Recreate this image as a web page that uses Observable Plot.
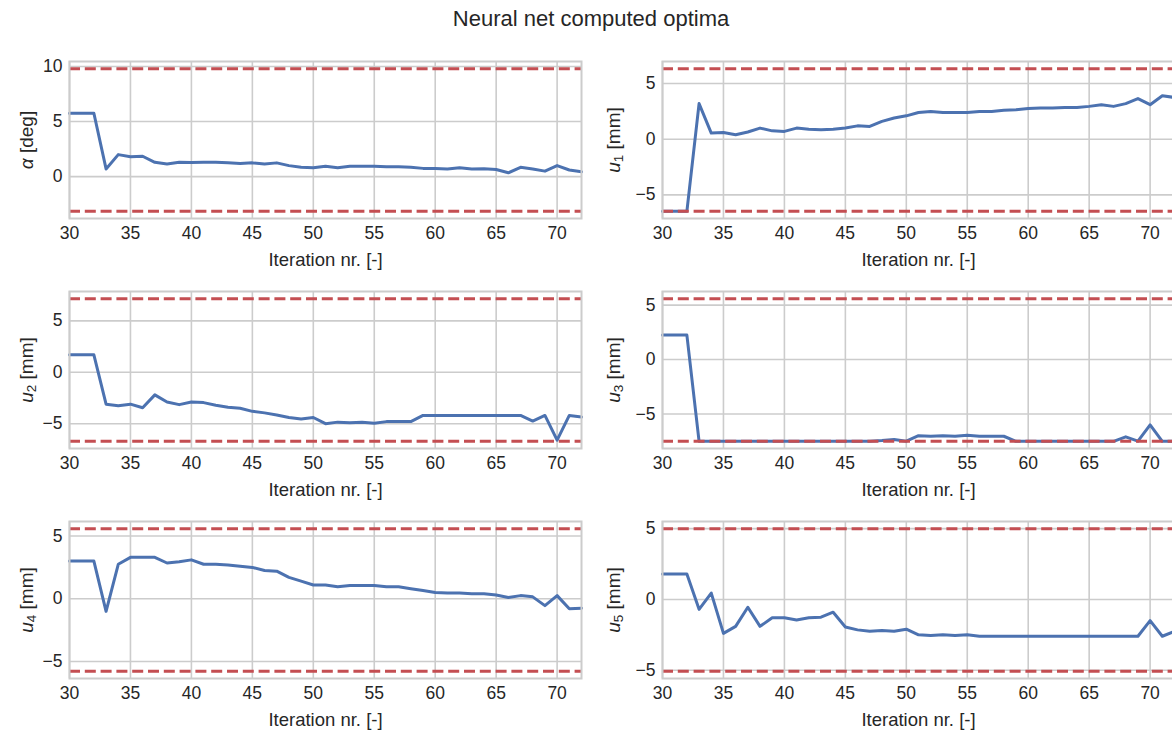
<!DOCTYPE html>
<html>
<head>
<meta charset="utf-8">
<script src="https://cdn.jsdelivr.net/npm/d3@7"></script>
<script src="https://cdn.jsdelivr.net/npm/@observablehq/plot@0.6"></script>
<style>
  body { margin: 0; background: #fff; width: 1172px; height: 731px; overflow: hidden; position: relative;
         font-family: "Liberation Sans", Arial, Helvetica, sans-serif; color: #262626; }
  #title { position: absolute; left: 0; top: 6px; width: 1182px; text-align: center; font-size: 22px; color: #262626; }
  .panel { position: absolute; width: 591px; height: 230px; }
  .panel svg { overflow: visible; max-width: none !important; display: block; }
</style>
</head>
<body>
<div id="title">Neural net computed optima</div>
<div id="fig"></div>
<script>
// Optimiser iterations
const iterations = [30, 31, 32, 33, 34, 35, 36, 37, 38, 39, 40, 41, 42, 43, 44, 45, 46, 47, 48, 49, 50,
                    51, 52, 53, 54, 55, 56, 57, 58, 59, 60, 61, 62, 63, 64, 65, 66, 67, 68, 69, 70, 71, 72];

// Computed optimum of each design variable per iteration
const alphaDeg = [5.75, 5.75, 5.75, 0.7, 2.0, 1.8, 1.85, 1.3, 1.15, 1.3, 1.28, 1.3, 1.3, 1.25, 1.2, 1.25, 1.15, 1.25, 1.0, 0.85, 0.8,
                  0.95, 0.8, 0.95, 0.95, 0.95, 0.9, 0.9, 0.85, 0.75, 0.75, 0.7, 0.8, 0.7, 0.72, 0.65, 0.35, 0.85, 0.7, 0.5, 1.0, 0.6, 0.45];
const u1 = [-6.48, -6.48, -6.48, 3.2, 0.55, 0.6, 0.4, 0.65, 1.0, 0.75, 0.7, 1.0, 0.9, 0.85, 0.9, 1.0, 1.2, 1.15, 1.6, 1.9, 2.1,
            2.4, 2.5, 2.4, 2.4, 2.4, 2.5, 2.5, 2.6, 2.65, 2.75, 2.8, 2.8, 2.85, 2.85, 2.95, 3.1, 2.95, 3.2, 3.65, 3.1, 3.9, 3.75];
const u2 = [1.7, 1.7, 1.7, -3.1, -3.25, -3.1, -3.45, -2.2, -2.9, -3.15, -2.9, -2.95, -3.2, -3.4, -3.5, -3.8, -3.95, -4.15, -4.4, -4.55, -4.4,
            -5.0, -4.85, -4.9, -4.85, -4.95, -4.8, -4.8, -4.8, -4.2, -4.2, -4.2, -4.2, -4.2, -4.2, -4.2, -4.2, -4.2, -4.75, -4.2, -6.6, -4.2, -4.35];
const u3 = [2.25, 2.25, 2.25, -7.52, -7.52, -7.52, -7.52, -7.52, -7.52, -7.52, -7.52, -7.52, -7.52, -7.52, -7.52, -7.52, -7.52, -7.52, -7.45, -7.35, -7.5,
            -7.0, -7.05, -7.0, -7.05, -6.95, -7.05, -7.05, -7.05, -7.52, -7.52, -7.52, -7.52, -7.52, -7.52, -7.52, -7.52, -7.52, -7.1, -7.5, -6.0, -7.52, -7.52];
const u4 = [3.0, 3.0, 3.0, -1.0, 2.75, 3.3, 3.3, 3.3, 2.85, 2.95, 3.1, 2.75, 2.75, 2.7, 2.6, 2.5, 2.25, 2.2, 1.7, 1.4, 1.1,
            1.1, 0.95, 1.05, 1.05, 1.05, 0.95, 0.95, 0.8, 0.65, 0.5, 0.45, 0.45, 0.4, 0.4, 0.3, 0.1, 0.25, 0.15, -0.55, 0.25, -0.8, -0.75];
const u5 = [1.8, 1.8, 1.8, -0.7, 0.45, -2.4, -1.9, -0.55, -1.9, -1.3, -1.3, -1.45, -1.3, -1.25, -0.9, -1.95, -2.15, -2.25, -2.2, -2.25, -2.1,
            -2.5, -2.55, -2.5, -2.55, -2.5, -2.6, -2.6, -2.6, -2.6, -2.6, -2.6, -2.6, -2.6, -2.6, -2.6, -2.6, -2.6, -2.6, -2.6, -1.5, -2.6, -2.25];

// Design-space bounds of each variable [lower, upper]
const alphaBounds = [-3.15, 9.8];
const u1Bounds = [-6.48, 6.34];
const u2Bounds = [-6.72, 7.16];
const u3Bounds = [-7.52, 5.6];
const u4Bounds = [-5.79, 5.59];
const u5Bounds = [-5.08, 5.0];

// Axis ticks and labels
const xTicks = [30, 35, 40, 45, 50, 55, 60, 65, 70];
const alphaTicks = [0, 5, 10];
const uTicks = [-5, 0, 5];
const xLabel = "Iteration nr. [-]";
const yLabels = [
  {sym: "α", sub: "", unit: " [deg]"},
  {sym: "u", sub: "1", unit: " [mm]"},
  {sym: "u", sub: "2", unit: " [mm]"},
  {sym: "u", sub: "3", unit: " [mm]"},
  {sym: "u", sub: "4", unit: " [mm]"},
  {sym: "u", sub: "5", unit: " [mm]"}
];

const series = [alphaDeg, u1, u2, u3, u4, u5];
const bounds = [alphaBounds, u1Bounds, u2Bounds, u3Bounds, u4Bounds, u5Bounds];
const yTicks = [alphaTicks, uTicks, uTicks, uTicks, uTicks, uTicks];

const BLUE = "#4c72b0", RED = "#c44e52", GRID = "#cccccc", INK = "#262626";
const fig = document.getElementById("fig");
const ns = "http://www.w3.org/2000/svg";

series.forEach((vals, i) => {
  const col = i % 2, row = Math.floor(i / 2);
  const [lo, hi] = bounds[i];
  const pad = 0.05 * (hi - lo);           // 5% autoscale margin around the bounds
  const rows = iterations.map((it, k) => ({it, v: vals[k]}));
  const mLeft = col === 0 ? 69 : 71;

  const chart = Plot.plot({
    width: 591,
    height: 230,
    marginLeft: mLeft,
    marginRight: 591 - mLeft - 512,
    marginTop: 21,
    marginBottom: 52,
    style: {fontFamily: '"Liberation Sans", Arial, sans-serif', fontSize: "17.5px", color: INK, background: "transparent"},
    x: {domain: [30, 72]},
    y: {domain: [lo - pad, hi + pad]},
    marks: [
      Plot.gridX(xTicks, {stroke: GRID, strokeOpacity: 1, strokeWidth: 1.6}),
      Plot.gridY(yTicks[i], {stroke: GRID, strokeOpacity: 1, strokeWidth: 1.6}),
      Plot.axisX(xTicks, {tickSize: 0, tickPadding: 8, label: xLabel, labelAnchor: "center", labelArrow: "none", labelOffset: 47, fill: INK}),
      Plot.axisY(yTicks[i], {tickSize: 0, tickPadding: 7, label: "y", labelAnchor: "center", labelArrow: "none",
                             labelOffset: col === 0 ? 50 : 56, fill: INK}),
      Plot.line(rows, {x: "it", y: "v", stroke: BLUE, strokeWidth: 3}),
      Plot.ruleY(bounds[i], {stroke: RED, strokeWidth: 3, strokeDasharray: "11,4.8"}),
      Plot.frame({stroke: GRID, strokeWidth: 2})
    ]
  });

  // Math-style y label: italic symbol with subscript index
  const lab = chart.querySelector('g[aria-label="y-axis label"] text');
  if (lab) {
    lab.textContent = "";
    lab.setAttribute("font-size", "19px");
    const s = document.createElementNS(ns, "tspan");
    s.setAttribute("font-style", "italic");
    s.textContent = yLabels[i].sym;
    lab.appendChild(s);
    if (yLabels[i].sub) {
      const sb = document.createElementNS(ns, "tspan");
      sb.setAttribute("font-size", "13.5px");
      sb.setAttribute("dy", "3.5");
      sb.textContent = yLabels[i].sub;
      lab.appendChild(sb);
    }
    const u = document.createElementNS(ns, "tspan");
    if (yLabels[i].sub) u.setAttribute("dy", "-3.5");
    u.textContent = yLabels[i].unit;
    lab.appendChild(u);
  }
  const xl = chart.querySelector('g[aria-label="x-axis label"] text');
  if (xl) xl.setAttribute("font-size", "18.5px");

  const holder = document.createElement("div");
  holder.className = "panel";
  holder.style.left = (col === 0 ? 0 : 591) + "px";
  holder.style.top = (40 + row * 230) + "px";
  holder.appendChild(chart);
  fig.appendChild(holder);
});
</script>
</body>
</html>
